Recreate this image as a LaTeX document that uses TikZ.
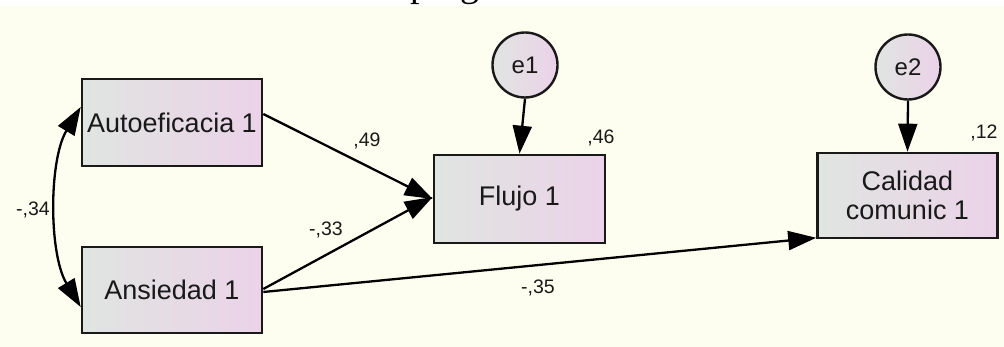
\documentclass[tikz,border=0pt]{standalone}
\usepackage{fontspec}
\setmainfont{Liberation Sans}
\newfontfamily\serifpart{Liberation Serif}
\usetikzlibrary{arrows.meta}
\definecolor{bgcream}{RGB}{254,254,240}
\definecolor{fillL}{RGB}{224,229,225}
\definecolor{fillR}{RGB}{235,210,232}
\definecolor{edge}{RGB}{25,25,25}
\definecolor{txt}{RGB}{25,25,25}
\begin{document}
\begin{tikzpicture}[x=1pt,y=-1pt,
  var/.style={draw=edge, line width=2.6pt, left color=fillL, right color=fillR,
    rectangle, minimum width=180pt, minimum height=86pt, inner sep=0pt,
    font=\fontsize{27}{29}\selectfont, text=txt, align=center},
  err/.style={draw=edge, line width=2.4pt, left color=fillL, right color=fillR,
    circle, minimum size=65pt, inner sep=0pt,
    font=\fontsize{24}{26}\selectfont, text=txt},
  tip/.tip={Triangle[length=28pt,width=19pt]},
  arr/.style={draw=black, line width=2.3pt, -tip},
  dblarr/.style={draw=black, line width=2.3pt, tip-tip},
  lbl/.style={font=\fontsize{19.5}{21}\selectfont, inner sep=0pt, text=txt}]
\useasboundingbox (0,0) rectangle (1004,347);
\fill[bgcream] (0,0) rectangle (1004,347);
\fill[white] (0,0) rectangle (1004,6);
\begin{scope}[overlay]
  \clip (0,0) rectangle (1004,6);
  \node[overlay, anchor=base west, inner sep=0pt, font=\serifpart\fontsize{38}{40}\selectfont] (toptext) at (410,-3) {program};
\end{scope}

\node[var, minimum height=87pt] (A) at (172,122.5) {Autoeficacia 1};
\node[var] (B) at (172,290) {Ansiedad 1};
\node[var, minimum width=171pt, minimum height=88pt] (F) at (519.5,199) {Flujo 1};
\node[var, minimum height=85pt] (C) at (907.5,195.5) {Calidad\\comunic 1};
\node[err] (e1) at (525,65) {e1};
\node[err] (e2) at (908,67) {e2};

\draw[arr] ([yshift=8.5pt]A.east) -- (F.west);
\draw[arr] ([yshift=1pt]B.east) -- ([yshift=2pt]F.west);
\draw[arr] ([yshift=-2pt]B.east) -- ([yshift=1.5pt]C.south west);
\draw[arr] (e1.south) -- (F.north);
\draw[arr] (e2.south) -- (C.north);
\draw[dblarr] ([yshift=15.5pt]A.west) .. controls +(-32,53) and +(-32,-53) .. ([yshift=-17pt]B.west);

\node[lbl] (l46) at (601,138) {,46};
\node[lbl] (l12) at (984,133) {,12};
\node[lbl] (l49) at (367,141) {,49};
\node[lbl] (l33) at (326,230) {-,33};
\node[lbl] (l35) at (538,288) {-,35};
\node[lbl] (l34) at (33,210) {-,34};
\end{tikzpicture}
\end{document}
